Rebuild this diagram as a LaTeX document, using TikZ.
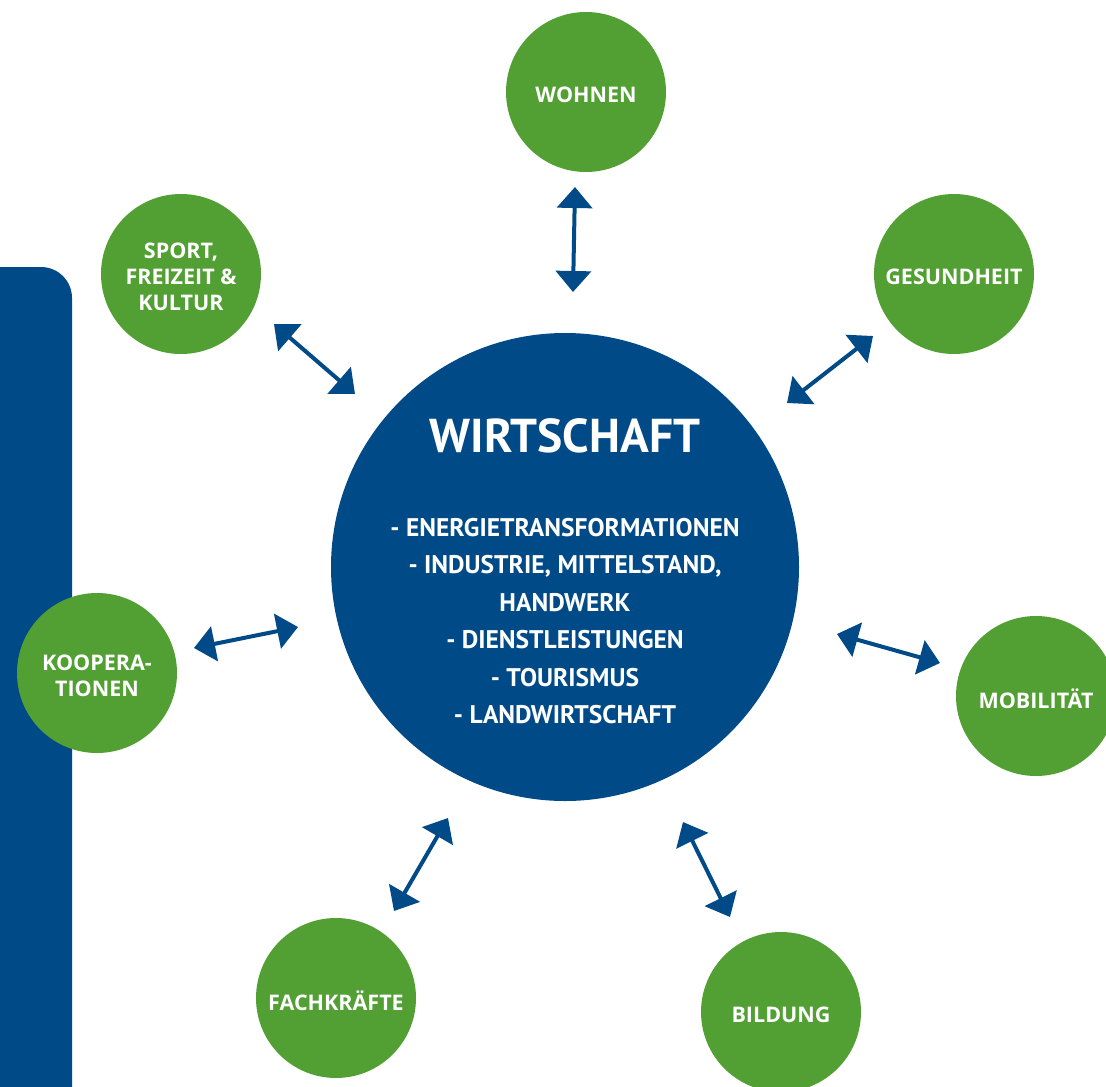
\documentclass[tikz,border=0pt]{standalone}
\usepackage{fontspec}
\setmainfont{Open Sans}
\newfontfamily\ptsans{PT Sans}
\usetikzlibrary{arrows.meta}
\definecolor{wblue}{HTML}{004A88}
\definecolor{wgreen}{HTML}{52A033}
\tikzset{
  sat/.style={circle, fill=wgreen, minimum size=160pt, inner sep=0pt},
  lab/.style={text=white, font=\fontsize{21.5}{26}\selectfont\bfseries, align=center, yshift=-3pt},
  dbl/.style={draw=wblue, line width=4pt, {Triangle[length=21pt,width=35pt]}-{Triangle[length=21pt,width=35pt]}, fill=wblue},
}
\begin{document}
\begin{tikzpicture}[x=1pt,y=-1pt]
\useasboundingbox (0,0) rectangle (1106,1087);
\clip (0,0) rectangle (1106,1087);
% left bar
\fill[wblue] (0,1090) -- (0,267) -- (41,267) arc[start angle=-90,end angle=0,radius=31] -- (72,1090) -- cycle;
% center
\node[circle, fill=wblue, minimum size=468pt, inner sep=0pt] (core) at (565,567) {};
\node[text=white, font=\ptsans\fontsize{47.5}{52}\selectfont\bfseries] (title) at (565,436) {WIRTSCHAFT};
\node[text=white, font=\ptsans\fontsize{25.5}{37.5}\selectfont\bfseries, align=center] (list) at (565,621)
 {- ENERGIETRANSFORMATIONEN\\- INDUSTRIE, MITTELSTAND,\\HANDWERK\\- DIENSTLEISTUNGEN\\- TOURISMUS\\- LANDWIRTSCHAFT};
% satellites
\node[sat] (wohnen) at (586,92) {};
\node[lab] at (wohnen) {WOHNEN};
\node[sat] (gesund) at (954,274) {};
\node[lab] at (gesund) {GESUNDHEIT};
\node[sat] (sport) at (181,274) {};
\node[lab] at (sport) {SPORT,\\FREIZEIT \&\\KULTUR};
\node[sat] (koop) at (97,673) {};
\node[lab] at (koop) {KOOPERA-\\TIONEN};
\node[sat] (mobil) at (1036,696) {};
\node[lab] at (mobil) {MOBILITÄT};
\node[sat] (fach) at (336,998) {};
\node[lab] at (fach) {FACHKRÄFTE};
\node[sat] (bild) at (781,1012) {};
\node[lab] at (bild) {BILDUNG};
% arrow ends
\coordinate (w1) at (575,187); \coordinate (w2) at (573,292);
\coordinate (s1) at (274,324); \coordinate (s2) at (355,394);
\coordinate (g1) at (873,336); \coordinate (g2) at (787,403);
\coordinate (k1) at (194,648); \coordinate (k2) at (298,627);
\coordinate (m1) at (837,634); \coordinate (m2) at (940,663);
\coordinate (f1) at (448,818); \coordinate (f2) at (394,911);
\coordinate (b1) at (683,822); \coordinate (b2) at (730,917);
\draw[dbl] (w1) -- (w2);
\draw[dbl] (s1) -- (s2);
\draw[dbl] (g1) -- (g2);
\draw[dbl] (k1) -- (k2);
\draw[dbl] (m1) -- (m2);
\draw[dbl] (f1) -- (f2);
\draw[dbl] (b1) -- (b2);
\end{tikzpicture}
\end{document}
